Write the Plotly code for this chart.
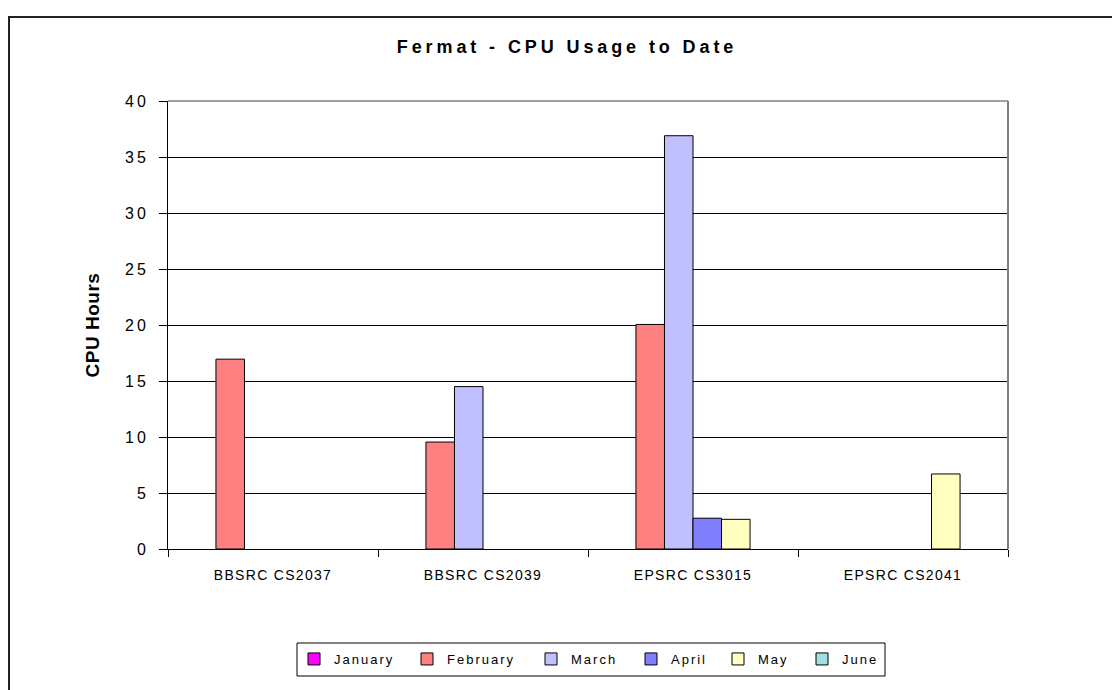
import plotly.graph_objects as go

# ---------------- data ----------------
categories = ["BBSRC CS2037", "BBSRC CS2039", "EPSRC CS3015", "EPSRC CS2041"]
months = ["January", "February", "March", "April", "May", "June"]
january = [None, None, None, None]
february = [16.95, 9.55, 20.05, None]
march = [None, 14.5, 36.9, None]
april = [None, None, 2.75, None]
may = [None, None, 2.65, 6.7]
june = [None, None, None, None]
y_tick_values = [0, 5, 10, 15, 20, 25, 30, 35, 40]

series = [january, february, march, april, may, june]
colors = ["#FF00FF", "#FF8080", "#C0C0FF", "#8080FF", "#FFFFC0", "#A0E0E0"]

# ---------------- geometry (pixels) ----------------
W, H = 1112, 690
L, R, T, B = 168, 1008, 101, 549


def px_x(p):
    return (p - L) / (R - L)


def px_y(p):
    return (B - p) / (B - T)


FONT = "Liberation Sans, Arial, Helvetica, sans-serif"


def spaced(text, ls):
    return f'<span style="letter-spacing:{ls}px">{text}</span>'


legend_text_left = [331, 444, 568, 668, 755, 839]
legend_center_y = 659

fig = go.Figure()
for i, (m, vals, c) in enumerate(zip(months, series, colors)):
    fig.add_trace(go.Bar(
        x=categories, y=vals, name=spaced(m, 2),
        marker=dict(color=c, line=dict(color="black", width=1)),
        legend="legend" if i == 0 else f"legend{i + 1}",
        hovertemplate=m + ": %{y}<extra>%{x}</extra>",
    ))

layout_legends = {}
for i, tx in enumerate(legend_text_left):
    key = "legend" if i == 0 else f"legend{i + 1}"
    layout_legends[key] = dict(
        x=px_x(tx - 37), y=px_y(legend_center_y), xanchor="left", yanchor="middle",
        orientation="h", bgcolor="rgba(0,0,0,0)", borderwidth=0,
        font=dict(family=FONT, size=13, color="black"),
        itemclick=False, itemdoubleclick=False,
    )

fig.update_layout(
    width=W, height=H,
    margin=dict(l=L, r=W - R, t=T, b=H - B, pad=0),
    paper_bgcolor="white", plot_bgcolor="white",
    barmode="group", bargap=0.185, bargroupgap=0,
    title=dict(
        text=spaced("Fermat - CPU Usage to Date", 3.9),
        font=dict(family=FONT, size=18, color="black", weight="bold"),
        x=px_x(567), xref="paper", xanchor="center",
        y=1 - 47 / H, yref="container", yanchor="middle",
    ),
    xaxis=dict(
        type="category",
        tickmode="array", tickvals=categories,
        ticktext=[spaced(c, 1.3) for c in categories],
        tickson="boundaries", ticks="outside", ticklen=7, tickcolor="black", tickwidth=1,
        showline=True, linecolor="black", linewidth=1,
        showgrid=False, ticklabelstandoff=13,
        tickfont=dict(family=FONT, size=14, color="black"),
    ),
    yaxis=dict(
        range=[0, 40], tickmode="array", tickvals=y_tick_values,
        ticktext=[spaced(str(v), 3) for v in y_tick_values],
        ticks="outside", ticklen=8, tickcolor="black", tickwidth=1,
        showline=True, linecolor="black", linewidth=1,
        showgrid=True, gridcolor="black", gridwidth=1, zeroline=False,
        ticklabelstandoff=7,
        tickfont=dict(family=FONT, size=16, color="black"),
        title=dict(text=spaced("CPU Hours", 0.5), standoff=20,
                   font=dict(family=FONT, size=19, color="black", weight="bold")),
    ),
    showlegend=True,
    **layout_legends,
)

# plot-area border (top / right in grey)
fig.add_shape(type="line", xref="paper", yref="paper", x0=0, x1=1, y0=1, y1=1,
              line=dict(color="#808080", width=1.5), layer="above")
fig.add_shape(type="line", xref="paper", yref="paper", x0=1, x1=1, y0=0, y1=1,
              line=dict(color="#808080", width=2), layer="above")
# outer chart border
fig.add_shape(type="rect", xref="paper", yref="paper",
              x0=px_x(9), x1=px_x(1130), y0=px_y(17), y1=px_y(710),
              line=dict(color="#222222", width=2), layer="above")
# legend box
fig.add_shape(type="rect", xref="paper", yref="paper",
              x0=px_x(297), x1=px_x(885), y0=px_y(643), y1=px_y(676),
              line=dict(color="black", width=1), layer="below")

fig.write_html(
    "out.html",
    config={"displayModeBar": False},
    post_script="document.body.style.margin='0';document.body.style.overflow='hidden';",
)
